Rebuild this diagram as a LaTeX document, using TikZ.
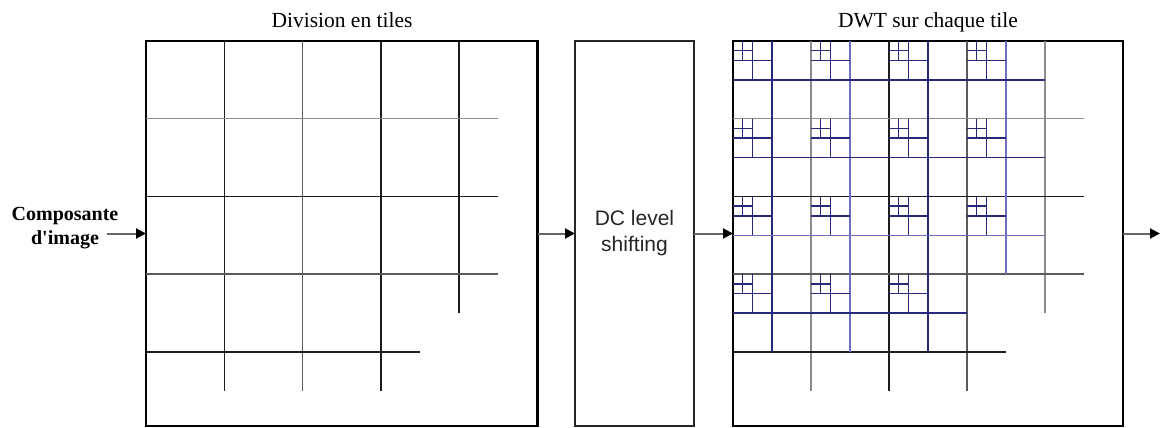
\documentclass[tikz,border=0pt]{standalone}
\usepackage{fontspec}
\setmainfont{Liberation Serif}
\newfontfamily\arialfont{Liberation Sans}
\usetikzlibrary{arrows.meta}
\definecolor{navy}{RGB}{40,40,125}
\definecolor{lnavy}{RGB}{110,110,190}
\definecolor{gline}{RGB}{140,140,140}
\definecolor{mline}{RGB}{90,90,90}
\definecolor{dline}{RGB}{30,30,30}
\begin{document}
\begin{tikzpicture}[x=1pt,y=-1pt,
  bigbox/.style={draw=black, line width=2.1pt, minimum height=385pt, anchor=north west, inner sep=0pt, outer sep=0pt},
  midbox/.style={draw=black!85, line width=1.5pt, minimum width=119pt, minimum height=385pt, anchor=north west, inner sep=0pt, outer sep=0pt, align=center, text=black!85, font=\arialfont\fontsize{21}{26}\selectfont},
  tile/.style={line width=1.5pt, draw=dline},
  tileg/.style={line width=1.5pt, draw=gline},
  tilem/.style={line width=1.5pt, draw=mline},
  dwt/.style={line width=1.4pt, draw=navy},
  dwtl/.style={line width=1.4pt, draw=lnavy},
  arr/.style={draw=black!60, line width=2pt, -{Triangle[length=10pt,width=10pt,color=black]}},
  titletext/.style={font=\fontsize{21.5}{26}\selectfont, anchor=base},
  lbl/.style={font=\bfseries\fontsize{20}{24}\selectfont, align=center},
]
\useasboundingbox (0,0) rectangle (1160,428);

% titles
\node[titletext] (t1) at (342,28) {Division en tiles};
\node[titletext] (t2) at (928,28) {DWT sur chaque tile};

% boxes
\node[bigbox, minimum width=391.5pt] (tiles) at (146,41) {};
\node[midbox] (dc) at (575,41) {DC level\\shifting};
\node[bigbox, minimum width=390pt] (dwtbox) at (733,41) {};

% label
\node[lbl] (comp) at (65,228) {Composante\\d\textquotesingle image};

% left tile grid
\begin{scope}[shift={(146pt,-41pt)}, x=78.3pt, y=-77.7pt]
  \draw[tile]  (1,0) -- (1,4.5);
  \draw[tilem] (2,0) -- (2,4.5);
  \draw[tile]  (3,0) -- (3,4.5);
  \draw[tile]  (4,0) -- (4,3.5);
  \draw[tileg] (0,1) -- (4.5,1);
  \draw[tile]  (0,2) -- (4.5,2);
  \draw[tilem] (0,3) -- (4.5,3);
  \draw[tile]  (0,4) -- (3.5,4);
\end{scope}

% right tile grid with DWT
\begin{scope}[shift={(733pt,-41pt)}, x=78pt, y=-77.7pt]
  \draw[tileg] (1,0) -- (1,4.5);
  \draw[tile]  (2,0) -- (2,4.5);
  \draw[tilem] (3,0) -- (3,4.5);
  \draw[tileg] (4,0) -- (4,3.5);
  \draw[tileg] (0,1) -- (4.5,1);
  \draw[tile]  (0,2) -- (4.5,2);
  \draw[tilem] (0,3) -- (4.5,3);
  \draw[tile]  (0,4) -- (3.5,4);
  % first level DWT
  \draw[dwt]  (0.5,0) -- (0.5,4);
  \draw[dwtl] (1.5,0) -- (1.5,4);
  \draw[dwt]  (2.5,0) -- (2.5,4);
  \draw[dwtl] (3.5,0) -- (3.5,3);
  \draw[dwt]  (0,0.5) -- (4,0.5);
  \draw[dwt]  (0,1.5) -- (4,1.5);
  \draw[dwtl] (0,2.5) -- (4,2.5);
  \draw[dwt]  (0,3.5) -- (3,3.5);
  % deeper levels
  \foreach \i/\j in {0/0,1/0,2/0,3/0,0/1,1/1,2/1,3/1,0/2,1/2,2/2,3/2,0/3,1/3,2/3}{
    \draw[dwt] (\i+0.25,\j) -- (\i+0.25,\j+0.5)
               (\i,\j+0.25) -- (\i+0.5,\j+0.25)
               (\i+0.125,\j) -- (\i+0.125,\j+0.25)
               (\i,\j+0.125) -- (\i+0.25,\j+0.125);
  }
\end{scope}

% connectors
\coordinate (in) at (107,233.5);
\coordinate (out) at (1160,233.5);
\draw[arr] (in) -- (tiles.west);
\draw[arr] (tiles.east) -- (dc.west);
\draw[arr] (dc.east) -- (dwtbox.west);
\draw[arr] (dwtbox.east) -- (out);
\end{tikzpicture}
\end{document}
